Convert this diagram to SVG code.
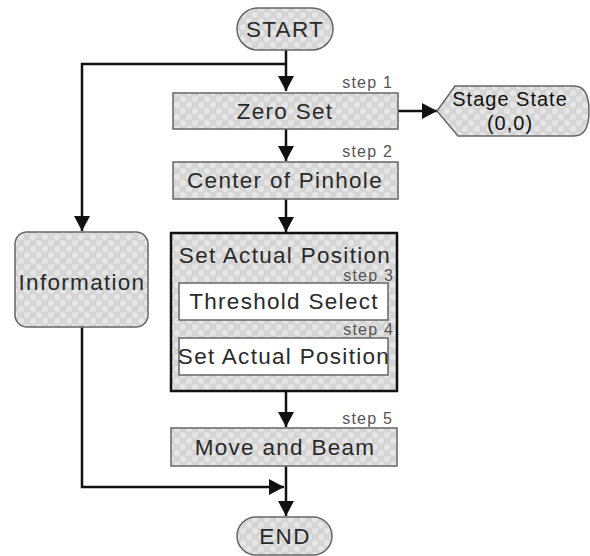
<svg xmlns="http://www.w3.org/2000/svg" width="590" height="556" viewBox="0 0 590 556">
<defs>
<pattern id="dots" width="12" height="12" patternUnits="userSpaceOnUse">
<rect width="12" height="12" fill="#d5d5d5"/>
<circle cx="3" cy="3" r="3" fill="#e6e6e6"/>
<circle cx="9" cy="9" r="3" fill="#e6e6e6"/>
</pattern>
<marker id="arr" markerUnits="userSpaceOnUse" markerWidth="16" markerHeight="16" refX="15" refY="8" orient="auto">
<path d="M0,0 L15,8 L0,16 Z" fill="#111"/>
</marker>
</defs>
<style>
.box{fill:url(#dots);stroke:#666;stroke-width:1.5}
.inner{fill:#fff;stroke:#666;stroke-width:1.5}
.big{fill:url(#dots);stroke:#111;stroke-width:2.5}
.t{font-family:"Liberation Sans",Arial,sans-serif;font-size:22.5px;letter-spacing:1.3px;fill:#2a2a2a;text-anchor:middle}
.s{font-family:"Liberation Sans",Arial,sans-serif;font-size:16px;letter-spacing:1.2px;fill:#555;text-anchor:end}
.st{font-family:"Liberation Sans",Arial,sans-serif;font-size:20px;letter-spacing:1px;fill:#111;text-anchor:middle}
.c{fill:none;stroke:#111;stroke-width:2.5}
</style>
<rect width="590" height="556" fill="#fff"/>
<g id="connectors">
<path class="c" d="M286,50 V91" marker-end="url(#arr)"/>
<path class="c" d="M286,64 H82 V231" marker-end="url(#arr)"/>
<path class="c" d="M286,129 V161" marker-end="url(#arr)"/>
<path class="c" d="M286,199 V232" marker-end="url(#arr)"/>
<path class="c" d="M286,391 V427" marker-end="url(#arr)"/>
<path class="c" d="M286,466 V516" marker-end="url(#arr)"/>
<path class="c" d="M82,327 V487 H284" marker-end="url(#arr)"/>
<path class="c" d="M398,111 H437" marker-end="url(#arr)"/>
</g>
<g id="start">
<rect class="box" x="237" y="8" width="96" height="42" rx="21"/>
<text class="t" x="285" y="37">START</text>
</g>
<g id="zero-set">
<text class="s" x="393" y="88">step 1</text>
<rect class="box" x="173" y="93" width="225" height="36"/>
<text class="t" x="285" y="119">Zero Set</text>
</g>
<g id="stage-state">
<path class="box" d="M437,111 L455,86 L574,86 Q589,86 589,111 Q589,136 574,136 L458,136 Z"/>
<text class="st" x="510" y="106">Stage State</text>
<text class="st" x="510" y="130">(0,0)</text>
</g>
<g id="center-of-pinhole">
<text class="s" x="393" y="157">step 2</text>
<rect class="box" x="173" y="162" width="225" height="37"/>
<text class="t" x="285" y="188">Center of Pinhole</text>
</g>
<g id="set-actual-position-group">
<rect class="big" x="171" y="233" width="226" height="158"/>
<text class="t" x="285" y="263">Set Actual Position</text>
<text class="s" x="394" y="281">step 3</text>
<g id="threshold-select">
<rect class="inner" x="179" y="283" width="209" height="37"/>
<text class="t" x="284" y="309">Threshold Select</text>
</g>
<text class="s" x="394" y="335">step 4</text>
<g id="set-actual-position">
<rect class="inner" x="179" y="338" width="209" height="37"/>
<text class="t" x="284" y="364">Set Actual Position</text>
</g>
</g>
<g id="information">
<rect class="box" x="15" y="232" width="133" height="95" rx="12"/>
<text class="t" x="82" y="290">Information</text>
</g>
<g id="move-and-beam">
<text class="s" x="393" y="424">step 5</text>
<rect class="box" x="171" y="428" width="226" height="38"/>
<text class="t" x="285" y="455">Move and Beam</text>
</g>
<g id="end">
<rect class="box" x="237" y="517" width="95" height="38" rx="19"/>
<text class="t" x="285" y="544">END</text>
</g>
</svg>
